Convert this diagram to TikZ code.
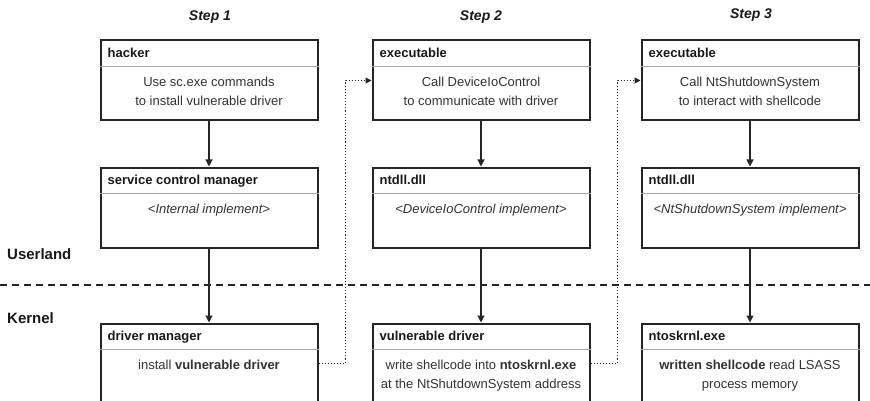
\documentclass[tikz,border=0pt]{standalone}
\usepackage{fontspec}
\setmainfont{Liberation Sans}
\usetikzlibrary{arrows.meta,positioning}

\tikzset{
  box/.style={draw=black!85, line width=2pt, fill=white, anchor=north,
    minimum width=217pt, minimum height=80pt, inner sep=0pt},
  hdr/.style={anchor=base west, inner sep=0pt, text=black!90,
    font=\bfseries\fontsize{13}{15}\selectfont},
  body/.style={anchor=north, align=center, inner sep=0pt, text=black!80,
    font=\fontsize{13}{18.5}\selectfont},
  sep/.style={draw=black!35, line width=0.8pt},
  flow/.style={-{Triangle[length=7pt,width=7pt]}, line width=1.2pt, draw=black!85},
  jump/.style={-{Triangle[length=6pt,width=6pt]}, dotted, line width=1.1pt, draw=black!85},
  steplabel/.style={font=\bfseries\itshape\fontsize{14}{16}\selectfont, text=black!90},
  level/.style={anchor=west, inner sep=0pt, font=\bfseries\fontsize{15}{17}\selectfont, text=black!90},
}

\begin{document}
\begin{tikzpicture}[x=1pt, y=-1pt]
    \useasboundingbox (0,0) rectangle (870,401);

    % Steps
    \node[steplabel] (step1) at (210,17) {Step 1};
    \node[steplabel] (step2) at (481,17) {Step 2};
    \node[steplabel] (step3) at (751,15) {Step 3};

    % Userland / kernel border
    \draw[line width=1.8pt, dash pattern=on 7pt off 5pt, black!85] (0,285) -- (870,285);
    \node[level] (user) at (7,254) {Userland};
    \node[level] (kern) at (7,318) {Kernel};

    % Boxes: name / x / top / header / text
    \foreach \name/\x/\y/\head/\txt in {
        hacker/209/39.5/hacker/{Use sc.exe commands\\to install vulnerable driver},
        scm/209/166.5/service control manager/{\itshape <Internal implement>},
        drvmgr/209/322.5/driver manager/{install \textbf{vulnerable driver}},
        exetwo/481/39.5/executable/{Call DeviceIoControl\\to communicate with driver},
        ntdlltwo/481/166.5/ntdll.dll/{\itshape <DeviceIoControl implement>},
        vulndrv/481/322.5/vulnerable driver/{write shellcode into \textbf{ntoskrnl.exe}\\at the NtShutdownSystem address},
        exethree/750/39.5/executable/{Call NtShutdownSystem\\to interact with shellcode},
        ntdllthree/750/166.5/ntdll.dll/{\itshape <NtShutdownSystem implement>},
        ntos/750/322.5/ntoskrnl.exe/{\textbf{written shellcode} read LSASS\\process memory}} {
        \node[box] (\name) at (\x,\y) {};
        \draw[sep] ([yshift=-27pt]\name.north west) -- ([yshift=-27pt]\name.north east);
        \node[hdr] at ([xshift=8pt,yshift=-18pt]\name.north west) {\head};
        \node[body] at ([yshift=-37.5pt]\name.north) {\txt};
    }

    % Calls down the stack
    \draw[flow] (hacker) -- (scm);
    \draw[flow] (scm) -- (drvmgr);
    \draw[flow] (exetwo) -- (ntdlltwo);
    \draw[flow] (ntdlltwo) -- (vulndrv);
    \draw[flow] (exethree) -- (ntdllthree);
    \draw[flow] (ntdllthree) -- (ntos);

    % Next step
    \draw[jump] (drvmgr.east) -- ++(27,0) |- (exetwo.west);
    \draw[jump] (vulndrv.east) -- ++(27,0) |- (exethree.west);
\end{tikzpicture}
\end{document}
